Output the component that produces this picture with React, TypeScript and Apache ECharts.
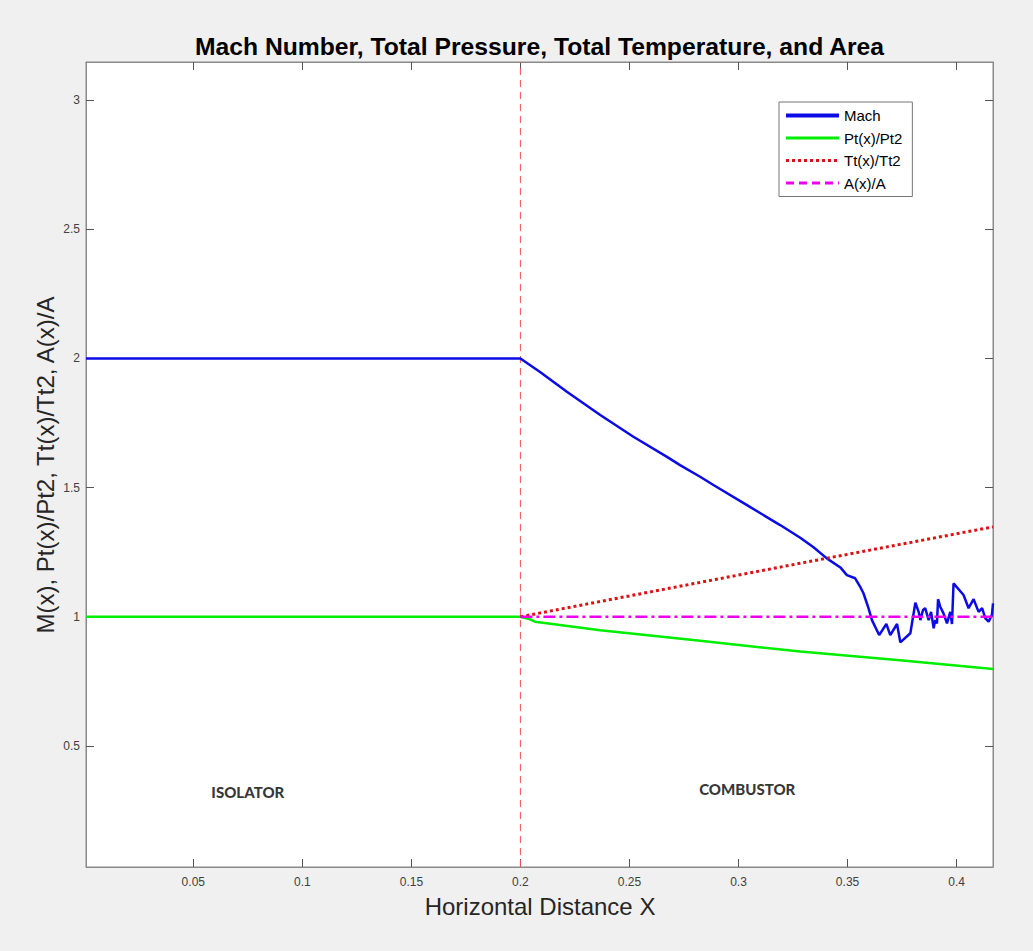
import React, { useEffect, useRef } from "react";
import * as echarts from "echarts";

// Axis limits and tick positions
const X_MIN = 0.0008;
const X_MAX = 0.4167;
const Y_MIN = 0.031;
const Y_MAX = 3.148;
const xTicks = [0.05, 0.1, 0.15, 0.2, 0.25, 0.3, 0.35, 0.4];
const yTicks = [0.5, 1, 1.5, 2, 2.5, 3];

// Isolator / combustor boundary
const boundaryX = 0.2;

// Mach number along the duct
const machX = [
  0.0008, 0.2, 0.209, 0.2213, 0.2366, 0.2518, 0.2672, 0.2732, 0.2824, 0.2885,
  0.3039, 0.3191, 0.3283, 0.3344, 0.3405, 0.3467, 0.3497, 0.3535, 0.3558, 0.3573,
  0.3596, 0.3612, 0.3645, 0.3678, 0.3696, 0.3727, 0.3742, 0.3788, 0.3811, 0.3826,
  0.3834, 0.3846, 0.3856, 0.3872, 0.3883, 0.3895, 0.3902, 0.391, 0.3915, 0.3925,
  0.394, 0.3956, 0.3971, 0.3979, 0.3986, 0.4032, 0.4055, 0.4078, 0.4101, 0.4117,
  0.4132, 0.4147, 0.4162, 0.4167,
];
const machY = [
  2.0, 2.0, 1.948, 1.871, 1.781, 1.697, 1.619, 1.587, 1.542, 1.51,
  1.432, 1.355, 1.306, 1.269, 1.226, 1.191, 1.161, 1.149, 1.116, 1.091,
  1.033, 0.987, 0.929, 0.972, 0.929, 0.972, 0.901, 0.936, 1.054, 1.019,
  0.987, 1.026, 1.033, 0.987, 1.019, 0.955, 0.987, 0.974, 1.068, 1.039,
  1.013, 0.974, 1.019, 0.972, 1.129, 1.084, 1.033, 1.068, 1.019, 1.033,
  0.994, 0.981, 1.007, 1.052,
];

// Total pressure ratio
const ptX = [0.0008, 0.2, 0.2044, 0.2067, 0.2366, 0.2824, 0.3283, 0.374, 0.4167];
const ptY = [1.0, 1.0, 0.99, 0.981, 0.948, 0.907, 0.865, 0.832, 0.798];

// Total temperature ratio
const ttX = [0.2, 0.2824, 0.3283, 0.4167];
const ttY = [1.0, 1.133, 1.207, 1.348];

// Area ratio
const areaX = [0.2, 0.4167];
const areaY = [1.0, 1.0];

// Region annotations
const regionNames = ["ISOLATOR", "COMBUSTOR"];
const regionX = [0.075, 0.304];
const regionY = [0.32, 0.333];

const zip = (xs: number[], ys: number[]) => xs.map((x, i) => [x, ys[i]]);

const FONT = "'Liberation Sans', Arial, Helvetica, sans-serif";
const NOTE_FONT = "Lato, 'Open Sans', sans-serif";
const AXIS_COLOR = "#8a8a8a";
const TICK_COLOR = "#555555";

function buildOption(): echarts.EChartsOption {
  const xAxisBase = {
    type: "value" as const,
    min: X_MIN,
    max: X_MAX,
    axisLine: { show: true, lineStyle: { color: AXIS_COLOR, width: 1 } },
    axisTick: {
      show: true,
      inside: true,
      length: 8,
      customValues: xTicks,
      lineStyle: { color: TICK_COLOR },
    },
    splitLine: { show: false },
  };
  const yAxisBase = {
    type: "value" as const,
    min: Y_MIN,
    max: Y_MAX,
    axisLine: { show: true, lineStyle: { color: AXIS_COLOR, width: 1 } },
    axisTick: {
      show: true,
      inside: true,
      length: 8,
      customValues: yTicks,
      lineStyle: { color: TICK_COLOR },
    },
    splitLine: { show: false },
  };

  return {
    animation: false,
    backgroundColor: "#f0f0f0",
    grid: {
      left: 86,
      top: 62,
      right: 40,
      bottom: 84,
      show: true,
      backgroundColor: "#ffffff",
      borderColor: AXIS_COLOR,
      borderWidth: 1,
    },
    xAxis: [
      {
        ...xAxisBase,
        position: "bottom",
        axisLabel: {
          customValues: xTicks,
          formatter: (v: number) => String(v),
          color: "#404040",
          fontSize: 12,
          margin: 9,
          fontFamily: FONT,
        },
      },
      { ...xAxisBase, position: "top", axisLabel: { show: false } },
    ],
    yAxis: [
      {
        ...yAxisBase,
        position: "left",
        axisLabel: {
          customValues: yTicks,
          formatter: (v: number) => String(v),
          color: "#404040",
          fontSize: 12,
          margin: 6,
          fontFamily: FONT,
        },
      },
      { ...yAxisBase, position: "right", axisLabel: { show: false } },
    ],
    legend: {
      data: [
        { name: "Mach", lineStyle: { width: 4 } },
        { name: "Pt(x)/Pt2", lineStyle: { width: 3 } },
        { name: "Tt(x)/Tt2", lineStyle: { width: 3 } },
        { name: "A(x)/A", lineStyle: { width: 3, type: [8, 5] } },
      ],
      orient: "vertical",
      left: 779,
      top: 102,
      padding: [6, 10, 6, 5],
      itemWidth: 53,
      itemHeight: 14,
      itemGap: 7.5,
      backgroundColor: "#ffffff",
      borderColor: "#777777",
      borderWidth: 1,
      borderRadius: 0,
      selectedMode: false,
      itemStyle: { opacity: 0 },
      textStyle: { fontSize: 15, color: "#000000", fontFamily: FONT },
    },
    graphic: [
      {
        type: "text",
        x: 539.5,
        y: 46,
        style: {
          text: "Mach Number, Total Pressure, Total Temperature, and Area",
          fontSize: 24.7,
          fontWeight: "bold",
          fontFamily: FONT,
          fill: "#000000",
          align: "center",
          verticalAlign: "middle",
        },
      },
      {
        type: "text",
        x: 540,
        y: 906,
        style: {
          text: "Horizontal Distance X",
          fontSize: 24,
          fontFamily: FONT,
          fill: "#262626",
          align: "center",
          verticalAlign: "middle",
        },
      },
      {
        type: "text",
        x: 45,
        y: 465,
        rotation: Math.PI / 2,
        style: {
          text: "M(x), Pt(x)/Pt2, Tt(x)/Tt2, A(x)/A",
          fontSize: 24,
          fontFamily: FONT,
          fill: "#262626",
          align: "center",
          verticalAlign: "middle",
        },
      },
    ],
    series: [
      {
        name: "Mach",
        type: "line",
        data: zip(machX, machY),
        symbol: "none",
        lineStyle: { color: "#0b0be6", width: 2.5 },
        itemStyle: { color: "#0b0be6" },
        z: 3,
      },
      {
        name: "Pt(x)/Pt2",
        type: "line",
        data: zip(ptX, ptY),
        symbol: "none",
        lineStyle: { color: "#00ee00", width: 2.5 },
        itemStyle: { color: "#00ee00" },
        z: 4,
      },
      {
        name: "Tt(x)/Tt2",
        type: "line",
        data: zip(ttX, ttY),
        symbol: "none",
        lineStyle: { color: "#dd1111", width: 3, type: [3, 3], cap: "butt" },
        itemStyle: { color: "#dd1111" },
        z: 5,
      },
      {
        name: "A(x)/A",
        type: "line",
        data: zip(areaX, areaY),
        symbol: "none",
        lineStyle: { color: "#ee00ee", width: 2.5, type: [12, 4, 3, 4] },
        itemStyle: { color: "#ee00ee" },
        z: 6,
      },
      {
        name: "boundary",
        type: "line",
        data: [
          [boundaryX, Y_MIN],
          [boundaryX, Y_MAX],
        ],
        symbol: "none",
        silent: true,
        lineStyle: { color: "#f25555", width: 1, type: [7, 5] },
        z: 2,
      },
      {
        name: "regions",
        type: "scatter",
        data: zip(regionX, regionY),
        symbolSize: 0,
        silent: true,
        itemStyle: { color: "#000000" },
        label: {
          show: true,
          position: "inside",
          formatter: (p: any) => regionNames[p.dataIndex],
          fontSize: 15,
          fontWeight: 900,
          fontFamily: NOTE_FONT,
          color: "#000000",
          textBorderWidth: 0,
        },
        z: 7,
      },
    ],
  };
}

export default function App() {
  const ref = useRef<HTMLDivElement>(null);

  useEffect(() => {
    if (!ref.current) return;
    const chart = echarts.init(ref.current, undefined, { renderer: "svg" });
    chart.setOption(buildOption());
    return () => chart.dispose();
  }, []);

  return (
    <div
      ref={ref}
      style={{
        position: "fixed",
        left: 0,
        top: 0,
        width: 1033,
        height: 951,
        background: "#f0f0f0",
      }}
    />
  );
}
